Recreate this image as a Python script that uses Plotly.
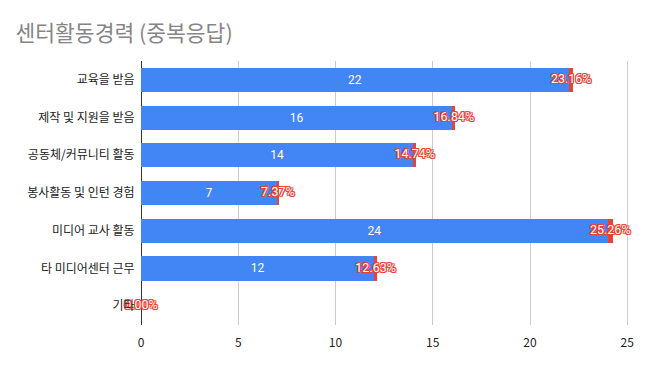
import plotly.graph_objects as go

categories = ["교육을 받음", "제작 및 지원을 받음", "공동체/커뮤니티 활동", "봉사활동 및 인턴 경험",
              "미디어 교사 활동", "타 미디어센터 근무", "기타"]
counts = [22, 16, 14, 7, 24, 12, 0]
percents = [23.16, 16.84, 14.74, 7.37, 25.26, 12.63, 0.00]
x_ticks = [0, 5, 10, 15, 20, 25]

pct_units = [p / 100 for p in percents]
pct_text = [f"{p:.2f}%" for p in percents]
label_x = [c + u / 2 for c, u in zip(counts, pct_units)]

RED = "#EA4335"

fig = go.Figure()
fig.add_trace(go.Bar(
    y=categories, x=counts, orientation="h",
    marker=dict(color="#4285F4", line=dict(width=0)),
    text=[str(c) if c else "" for c in counts], textposition="inside",
    insidetextanchor="middle",
    textfont=dict(color="white", size=12, family="Roboto, Arial"),
    hoverinfo="skip",
))
fig.add_trace(go.Bar(
    y=categories, x=pct_units, orientation="h",
    marker=dict(color=RED, line=dict(width=0)),
    hoverinfo="skip",
))

halo = ", ".join(f"{RED} {dx}px {dy}px 0.6px" for dx, dy in
                 [(1, 0), (-1, 0), (0, 1), (0, -1), (1, 1), (-1, -1), (1, -1), (-1, 1)])
fig.add_trace(go.Scatter(
    y=categories, x=label_x, mode="text", text=pct_text,
    textposition="middle center",
    textfont=dict(color="white", size=12.5, family="Roboto, Arial", shadow=halo),
    hoverinfo="skip", cliponaxis=False,
))

fig.update_layout(
    width=647, height=371,
    barmode="stack", bargap=0.36,
    showlegend=False,
    paper_bgcolor="white", plot_bgcolor="white",
    margin=dict(l=141, r=10, t=61, b=46),
    title=dict(text="센터활동경력 (중복응답)", x=0.024, xanchor="left", y=0.91, yanchor="middle",
               font=dict(size=21.5, color="#858585", family="Noto Sans CJK KR, Roboto")),
    font=dict(family="Noto Sans CJK KR, Roboto, Arial", color="#222222", size=12),
)
fig.update_xaxes(range=[0, 25.5], tickvals=x_ticks, ticktext=[str(t) for t in x_ticks],
                 showgrid=True, gridcolor="#cccccc", gridwidth=1,
                 zeroline=True, zerolinecolor="#333333", zerolinewidth=1,
                 tickfont=dict(size=12, color="#222222"), ticks="", showline=False,
                 ticklabelstandoff=9, automargin=False)
fig.update_yaxes(autorange="reversed", showgrid=False, ticks="", showline=False,
                 tickfont=dict(size=12, color="#222222"), ticksuffix="  ",
                 automargin=False)

fig.write_html("out.html", config={"displayModeBar": False},
               post_script="document.body.style.margin='0';document.body.style.overflow='hidden';")
